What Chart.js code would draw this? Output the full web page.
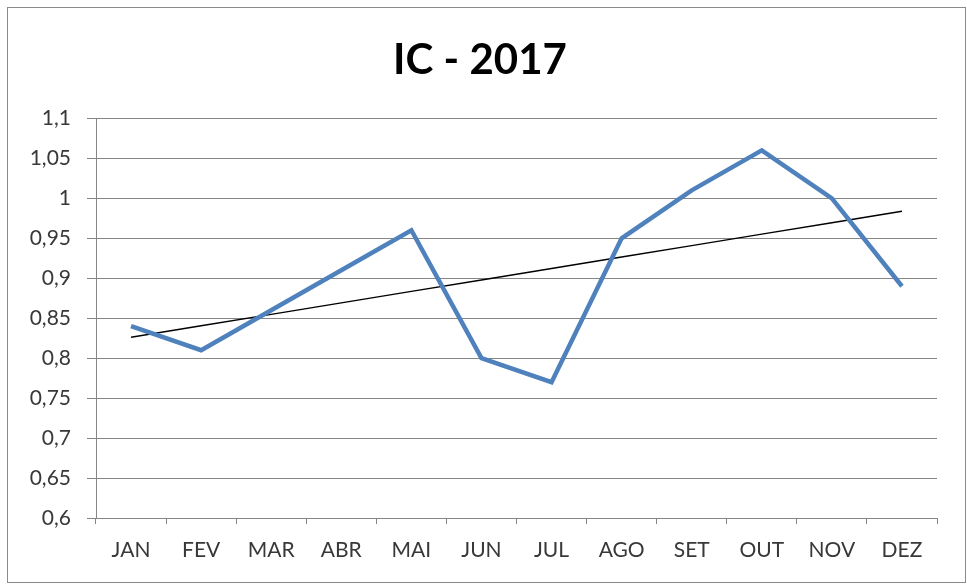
<!DOCTYPE html>
<html>
<head>
<meta charset="utf-8">
<script src="https://cdn.jsdelivr.net/npm/chart.js@4"></script>
<style>
  html, body { margin: 0; padding: 0; background: #fff; }
  #wrap { width: 967px; height: 584px; }
</style>
</head>
<body>
<div id="wrap"><canvas id="ic-chart"></canvas></div>
<script>
// dados do gráfico
var meses = ["JAN", "FEV", "MAR", "ABR", "MAI", "JUN", "JUL", "AGO", "SET", "OUT", "NOV", "DEZ"];
var ic2017 = [0.84, 0.81, 0.86, 0.91, 0.96, 0.80, 0.77, 0.95, 1.01, 1.06, 1.00, 0.89];
var yTicks = [0.6, 0.65, 0.7, 0.75, 0.8, 0.85, 0.9, 0.95, 1, 1.05, 1.1];

// linha de tendência (regressão linear, igual ao Excel)
function tendencia(vals){
	var n = vals.length, sx = 0, sy = 0, sxy = 0, sxx = 0;
	for (var i = 0; i < n; i++){
		sx += i; sy += vals[i]; sxy += i * vals[i]; sxx += i * i;
	}
	var b = (n * sxy - sx * sy) / (n * sxx - sx * sx);
	var a = (sy - b * sx) / n;
	return vals.map(function(v, i){ return a + b * i; });
}

var moldura = {
	id: "moldura",
	beforeDraw: function(chart){
		var ctx = chart.ctx;
		ctx.save();
		ctx.fillStyle = "#fff";
		ctx.fillRect(0, 0, chart.width, chart.height);
		ctx.strokeStyle = "#8a8a8a";
		ctx.lineWidth = 1;
		ctx.strokeRect(7.5, 7.5, 958, 575);
		ctx.restore();
	}
};

var cinza = "#868686";
var fonte = "Lato, 'Open Sans', sans-serif";

new Chart(document.getElementById("ic-chart"), {
	type: "line",
	data: {
		labels: meses,
		datasets: [
			{
				label: "IC",
				data: ic2017,
				borderColor: "#4f81bd",
				borderWidth: 4.5,
				pointRadius: 0,
				tension: 0,
				fill: false
			}, {
				label: "Tendência",
				data: tendencia(ic2017),
				borderColor: "#000",
				borderWidth: 1.4,
				pointRadius: 0,
				tension: 0,
				fill: false
			}
		]
	},
	options: {
		responsive: true,
		maintainAspectRatio: false,
		animation: false,
		layout: { padding: { left: 0, right: 7, top: 0, bottom: 0 } },
		plugins: {
			legend: { display: false },
			tooltip: { enabled: false },
			title: {
				display: true,
				text: "IC - 2017",
				color: "#000",
				font: { family: fonte, size: 42, weight: "bold", lineHeight: 1.2 },
				padding: { top: 35, bottom: 33 }
			}
		},
		scales: {
			x: {
				offset: true,
				grid: {
					display: true,
					drawOnChartArea: false,
					drawTicks: true,
					tickLength: 6,
					offset: true,
					color: cinza
				},
				border: { color: cinza, width: 1 },
				ticks: {
					color: "#383838",
					padding: 14,
					maxRotation: 0,
					font: { family: fonte, size: 21 }
				},
				afterFit: function(scale){ scale.height = 66; }
			},
			y: {
				min: 0.6,
				max: 1.1,
				afterBuildTicks: function(scale){
					scale.ticks = yTicks.map(function(v){ return { value: v }; });
				},
				grid: {
					color: cinza,
					lineWidth: 1,
					drawTicks: true,
					tickLength: 9
				},
				border: { color: cinza, width: 1 },
				ticks: {
					color: "#383838",
					padding: 16,
					font: { family: fonte, size: 21 },
					callback: function(v){ return String(Math.round(v * 100) / 100).replace(".", ","); }
				},
				afterFit: function(scale){ scale.width = 96; }
			},
			// eixo vazio só para deixar a margem direita
			margem: {
				position: "right",
				min: 0.6,
				max: 1.1,
				grid: { display: false },
				border: { display: false },
				ticks: { display: false },
				afterFit: function(scale){ scale.width = 23; }
			}
		}
	},
	plugins: [moldura]
});
</script>
</body>
</html>
